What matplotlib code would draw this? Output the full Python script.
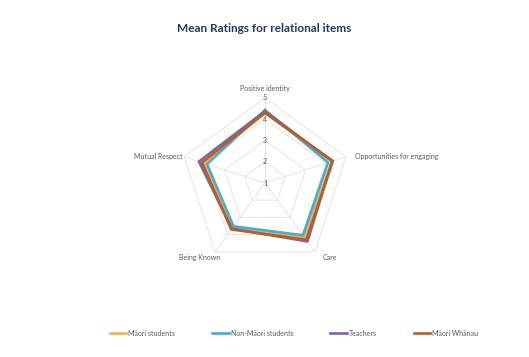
import numpy as np
import matplotlib
matplotlib.use('Agg')
import matplotlib.pyplot as plt

plt.rcParams['font.family'] = ['Lato', 'DejaVu Sans']

# categories going clockwise from the top
items = ['Positive identity', 'Opportunities for engaging', 'Care', 'Being Known', 'Mutual Respect']

# mean ratings per group
maori_students = [4.30, 4.30, 4.15, 3.65, 4.02]
non_maori_students = [4.43, 4.12, 4.04, 3.52, 3.87]
teachers = [4.38, 4.32, 4.40, 3.65, 4.27]
maori_whanau = [4.30, 4.36, 4.30, 3.70, 4.12]

series_names = ['Māori students', 'Non-Māori students', 'Teachers', 'Māori Whānau']
series_values = [maori_students, non_maori_students, teachers, maori_whanau]
colors = ['#F2AE63', '#4BACC6', '#8064A2', '#B0602A']
ring_values = [1, 2, 3, 4, 5]

W, H = 529, 357
fig = plt.figure(figsize=(W / 100, H / 100), dpi=100)

# polar axes centred on the chart, value 1 sits at the centre
cx, cy, R = 265, 183, 85
ax = fig.add_axes([(cx - R) / W, (H - cy - R) / H, 2 * R / W, 2 * R / H], projection='polar')
ax.set_theta_offset(np.pi / 2)
ax.set_theta_direction(-1)
ax.set_ylim(1, 5)
ax.grid(False)
ax.spines['polar'].set_visible(False)
ax.set_xticks([])
ax.set_yticks([])
ax.patch.set_alpha(0)

n = len(items)
angles = np.linspace(0, 2 * np.pi, n, endpoint=False)
closed = np.append(angles, angles[0])

# pentagon grid + spokes
for r in ring_values[1:]:
    ax.plot(closed, [r] * (n + 1), color='#E3E3E3', lw=0.7, zorder=1)
for a in angles:
    ax.plot([a, a], [1, 5], color='#E3E3E3', lw=0.7, zorder=1)

for name, vals, c in zip(series_names, series_values, colors):
    ax.plot(closed, vals + vals[:1], color=c, lw=1.9, label=name, zorder=3)

# value labels along the top spoke
for r in ring_values:
    ax.text(0, r, str(r), fontsize=5, color='#595959', ha='center', va='center', zorder=4)

# category labels
offsets = [(0, 9, 'center'), (9, 0, 'left'), (15, -6, 'center'), (-15, -6, 'center'), (-2, 0, 'right')]
for a, lab, (dx, dy, ha) in zip(angles, items, offsets):
    x = cx + R * np.sin(a)
    y = cy - R * np.cos(a)
    fig.text((x + dx) / W, 1 - (y - dy) / H, lab, fontsize=5, color='#595959', ha=ha, va='center')

fig.text(0.5, 1 - 28 / H, 'Mean Ratings for relational items', fontsize=8.5, fontweight='bold',
         color='#1F3864', ha='center', va='center')

fig.legend(loc='center', bbox_to_anchor=(0.556, 1 - 333 / H), ncol=4, frameon=False,
           fontsize=5, handlelength=2.4, handletextpad=0.3, columnspacing=5.3,
           labelcolor='#595959')

fig.savefig('out.png', dpi=100)
